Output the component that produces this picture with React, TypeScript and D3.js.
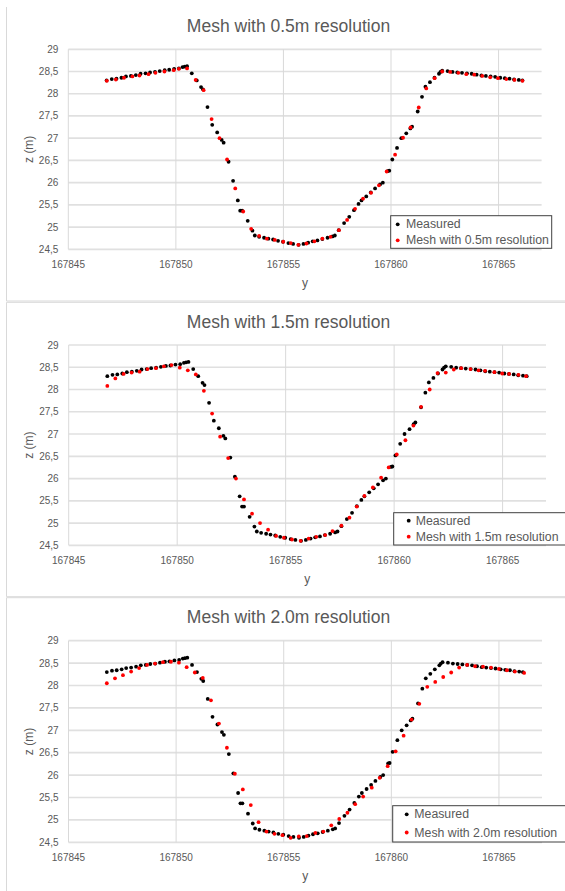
import * as d3 from "d3";

// cross-section: y coordinate (m) vs elevation z (m)
const measured: [number, number][] = [
  [167846.78, 28.3], [167847.02, 28.33], [167847.24, 28.34], [167847.47, 28.36], [167847.68, 28.39],
  [167847.91, 28.4], [167848.14, 28.42], [167848.36, 28.45], [167848.59, 28.46], [167848.8, 28.48],
  [167849.03, 28.49], [167849.25, 28.51], [167849.48, 28.53], [167849.69, 28.54], [167849.92, 28.56],
  [167850.14, 28.57], [167850.31, 28.6], [167850.41, 28.61], [167850.52, 28.62], [167850.74, 28.46],
  [167850.97, 28.3], [167851.17, 28.15], [167851.26, 28.1], [167851.47, 27.7], [167851.69, 27.3],
  [167851.92, 27.13], [167852.13, 26.96], [167852.22, 26.9], [167852.45, 26.47], [167852.66, 26.04],
  [167852.88, 25.6], [167852.99, 25.37], [167853.08, 25.37], [167853.34, 25.14], [167853.56, 24.92],
  [167853.67, 24.81], [167853.87, 24.78], [167854.1, 24.76], [167854.3, 24.74], [167854.52, 24.72],
  [167854.75, 24.69], [167854.98, 24.67], [167855.23, 24.64], [167855.45, 24.62], [167855.71, 24.6],
  [167855.93, 24.62], [167856.15, 24.65], [167856.36, 24.68], [167856.58, 24.7], [167856.81, 24.73],
  [167857.05, 24.76], [167857.28, 24.79], [167857.39, 24.81], [167857.57, 24.93], [167857.82, 25.09],
  [167858.06, 25.23], [167858.28, 25.38], [167858.49, 25.52], [167858.63, 25.6], [167858.85, 25.69],
  [167859.06, 25.78], [167859.26, 25.87], [167859.49, 25.96], [167859.62, 26.0], [167859.85, 26.26],
  [167859.92, 26.27], [167860.06, 26.52], [167860.28, 26.78], [167860.48, 27.0], [167860.71, 27.11],
  [167860.9, 27.22], [167860.98, 27.26], [167861.24, 27.6], [167861.44, 27.93], [167861.6, 28.16],
  [167861.81, 28.26], [167862.02, 28.36], [167862.23, 28.45], [167862.3, 28.49], [167862.38, 28.52],
  [167862.63, 28.51], [167862.86, 28.49], [167863.08, 28.48], [167863.3, 28.47], [167863.53, 28.46],
  [167863.75, 28.45], [167863.98, 28.43], [167864.2, 28.41], [167864.41, 28.4], [167864.63, 28.39],
  [167864.84, 28.38], [167865.08, 28.36], [167865.29, 28.35], [167865.51, 28.34], [167865.72, 28.32],
  [167865.94, 28.31], [167866.11, 28.3],
];

const mesh05: [number, number][] = [
  [167846.79, 28.29], [167847.21, 28.32], [167847.59, 28.36], [167847.98, 28.39], [167848.31, 28.41],
  [167848.73, 28.44], [167849.05, 28.47], [167849.47, 28.5], [167849.9, 28.53], [167850.14, 28.56],
  [167850.52, 28.57], [167850.92, 28.31], [167851.29, 28.08], [167851.66, 27.43], [167852.03, 27.0],
  [167852.38, 26.52], [167852.76, 25.87], [167853.13, 25.35], [167853.5, 24.96], [167853.87, 24.8],
  [167854.23, 24.74], [167854.6, 24.71], [167854.99, 24.67], [167855.34, 24.64], [167855.69, 24.6],
  [167856.07, 24.63], [167856.44, 24.68], [167856.81, 24.74], [167857.19, 24.78], [167857.58, 24.93],
  [167857.96, 25.16], [167858.33, 25.41], [167858.7, 25.64], [167859.07, 25.77], [167859.44, 25.94],
  [167859.8, 26.25], [167860.19, 26.63], [167860.56, 27.01], [167860.91, 27.24], [167861.29, 27.69],
  [167861.64, 28.12], [167862.03, 28.35], [167862.38, 28.5], [167862.75, 28.49], [167863.13, 28.47],
  [167863.5, 28.44], [167863.87, 28.43], [167864.24, 28.4], [167864.61, 28.37], [167864.97, 28.35],
  [167865.36, 28.33], [167865.74, 28.31], [167866.11, 28.29],
];

const mesh15: [number, number][] = [
  [167846.78, 28.08], [167847.15, 28.25], [167847.53, 28.35], [167847.9, 28.38], [167848.27, 28.4],
  [167848.63, 28.46], [167849.02, 28.48], [167849.39, 28.52], [167849.74, 28.55], [167850.12, 28.49],
  [167850.49, 28.43], [167850.86, 28.34], [167851.23, 27.97], [167851.61, 27.46], [167851.98, 26.94],
  [167852.35, 26.46], [167852.71, 26.0], [167853.08, 25.53], [167853.45, 25.21], [167853.82, 25.0],
  [167854.19, 24.85], [167854.56, 24.71], [167854.92, 24.67], [167855.29, 24.63], [167855.69, 24.6],
  [167856.06, 24.65], [167856.41, 24.69], [167856.82, 24.73], [167857.16, 24.82], [167857.57, 24.94],
  [167857.94, 25.12], [167858.28, 25.37], [167858.63, 25.61], [167859.02, 25.8], [167859.4, 26.02],
  [167859.75, 26.25], [167860.12, 26.54], [167860.52, 26.86], [167860.89, 27.19], [167861.24, 27.61],
  [167861.64, 28.0], [167862.0, 28.37], [167862.38, 28.38], [167862.75, 28.45], [167863.09, 28.48],
  [167863.52, 28.46], [167863.89, 28.43], [167864.19, 28.42], [167864.62, 28.39], [167864.98, 28.36],
  [167865.3, 28.35], [167865.73, 28.33], [167866.08, 28.3],
];

const mesh20: [number, number][] = [
  [167846.78, 28.05], [167847.16, 28.16], [167847.53, 28.23], [167847.91, 28.31], [167848.28, 28.39],
  [167848.65, 28.46], [167849.02, 28.49], [167849.39, 28.52], [167849.76, 28.53], [167850.13, 28.51],
  [167850.49, 28.41], [167850.87, 28.29], [167851.24, 28.17], [167851.62, 27.67], [167851.99, 27.15],
  [167852.36, 26.61], [167852.73, 26.03], [167853.1, 25.68], [167853.47, 25.33], [167853.83, 24.95],
  [167854.2, 24.74], [167854.57, 24.69], [167854.94, 24.66], [167855.32, 24.6], [167855.7, 24.63],
  [167856.07, 24.64], [167856.47, 24.71], [167856.84, 24.74], [167857.21, 24.88], [167857.58, 25.02],
  [167857.96, 25.16], [167858.32, 25.35], [167858.69, 25.52], [167859.09, 25.72], [167859.46, 25.94],
  [167859.83, 26.2], [167860.2, 26.53], [167860.57, 26.88], [167860.94, 27.24], [167861.3, 27.59],
  [167861.67, 27.97], [167862.04, 28.08], [167862.41, 28.19], [167862.78, 28.29], [167863.15, 28.4],
  [167863.52, 28.46], [167863.89, 28.43], [167864.26, 28.42], [167864.63, 28.4], [167865.0, 28.37],
  [167865.37, 28.34], [167865.74, 28.31], [167866.17, 28.28],
];

const resolutions = ["0.5m", "1.5m", "2.0m"];
const meshSeries = [mesh05, mesh15, mesh20];
const zTicks = [24.5, 25, 25.5, 26, 26.5, 27, 27.5, 28, 28.5, 29];
const yTicks = [167845, 167850, 167855, 167860, 167865];

const FONT = "'Liberation Sans', Arial, sans-serif";
const TEXT = "#595959";
const R = 1.9;

const layouts = [
  { frameTop: 7, frameBottom: 301, left: 68.3, right: 541.6, top: 49.3, bottom: 249.3,
    lg: { x0: 390.7, x1: 551.7, y0: 215.7, y1: 248.3, r1: 224.3, r2: 240.3, mx: 397.7, tx: 406 } },
  { frameTop: 302.3, frameBottom: 596.7, left: 68.7, right: 546, top: 345, bottom: 545.3,
    lg: { x0: 393.7, x1: 567, y0: 512.7, y1: 545, r1: 520.7, r2: 536.7, mx: 408.7, tx: 415.7 } },
  { frameTop: 597.7, frameBottom: 893, left: 68.5, right: 542, top: 640.7, bottom: 842.3,
    lg: { x0: 392.7, x1: 567, y0: 805.7, y1: 842, r1: 814.3, r2: 832.5, mx: 406.7, tx: 414.3 } },
];

function Panel({ i }: { i: number }) {
  const L = layouts[i];
  const x = d3.scaleLinear().domain([167845, 167867]).range([L.left, L.right]);
  const y = d3.scaleLinear().domain([24.5, 29]).range([L.bottom, L.top]);
  const mesh = meshSeries[i];
  const label = `Mesh with ${resolutions[i]} resolution`;
  const midY = (L.top + L.bottom) / 2;
  return (
    <g>
      {/* chart frame */}
      <line x1={6.5} x2={6.5} y1={L.frameTop} y2={L.frameBottom} stroke="#d9d9d9" />
      {i < 2 && <line x1={6.5} x2={570} y1={L.frameBottom} y2={L.frameBottom} stroke="#d9d9d9" />}
      {i > 0 && <line x1={6.5} x2={570} y1={L.frameTop} y2={L.frameTop} stroke="#d9d9d9" />}

      <text x={288.5} y={L.top - 23.3} textAnchor="middle" dominantBaseline="central"
        fill={TEXT} style={{ fontSize: 17.5 }}>{label}</text>

      {zTicks.map((t) => (
        <g key={t}>
          <line x1={L.left} x2={L.right} y1={y(t)} y2={y(t)} stroke="#e0e0e0" strokeWidth={1.7} />
          <text x={L.left - 10} y={y(t)} textAnchor="end" dominantBaseline="central"
            fill={TEXT} style={{ fontSize: 10 }}>{String(t).replace(".", ",")}</text>
        </g>
      ))}
      {yTicks.map((t) => (
        <g key={t}>
          <line x1={x(t)} x2={x(t)} y1={L.top} y2={L.bottom} stroke="#d9d9d9" strokeWidth={1} />
          <text x={x(t)} y={L.bottom + 15} textAnchor="middle" dominantBaseline="central"
            fill={TEXT} style={{ fontSize: 10 }}>{t}</text>
        </g>
      ))}

      <text x={(L.left + L.right) / 2} y={L.bottom + 34} textAnchor="middle" dominantBaseline="central"
        fill={TEXT} style={{ fontSize: 12 }}>y</text>
      <text transform={`translate(28.8,${midY}) rotate(-90)`} textAnchor="middle" dominantBaseline="central"
        fill={TEXT} style={{ fontSize: 12 }}>z (m)</text>

      {measured.map(([a, b], k) => (
        <circle key={`m${k}`} cx={x(a)} cy={y(b)} r={R} fill="#000" />
      ))}
      {mesh.map(([a, b], k) => (
        <circle key={`r${k}`} cx={x(a)} cy={y(b)} r={R} fill="#ff0000" />
      ))}

      <rect x={L.lg.x0} y={L.lg.y0} width={L.lg.x1 - L.lg.x0} height={L.lg.y1 - L.lg.y0}
        fill="#fff" stroke="#404040" strokeWidth={1} />
      <circle cx={L.lg.mx} cy={L.lg.r1} r={R} fill="#000" />
      <text x={L.lg.tx} y={L.lg.r1} dominantBaseline="central" fill={TEXT} style={{ fontSize: 12.3 }}>Measured</text>
      <circle cx={L.lg.mx} cy={L.lg.r2} r={R} fill="#ff0000" />
      <text x={L.lg.tx} y={L.lg.r2} dominantBaseline="central" fill={TEXT} style={{ fontSize: 12.3 }}>{label}</text>
    </g>
  );
}

export default function App() {
  return (
    <svg width={565} height={891} style={{ position: "absolute", left: 0, top: 0, background: "#fff", fontFamily: FONT }}>
      {resolutions.map((_, i) => (
        <Panel key={i} i={i} />
      ))}
    </svg>
  );
}
